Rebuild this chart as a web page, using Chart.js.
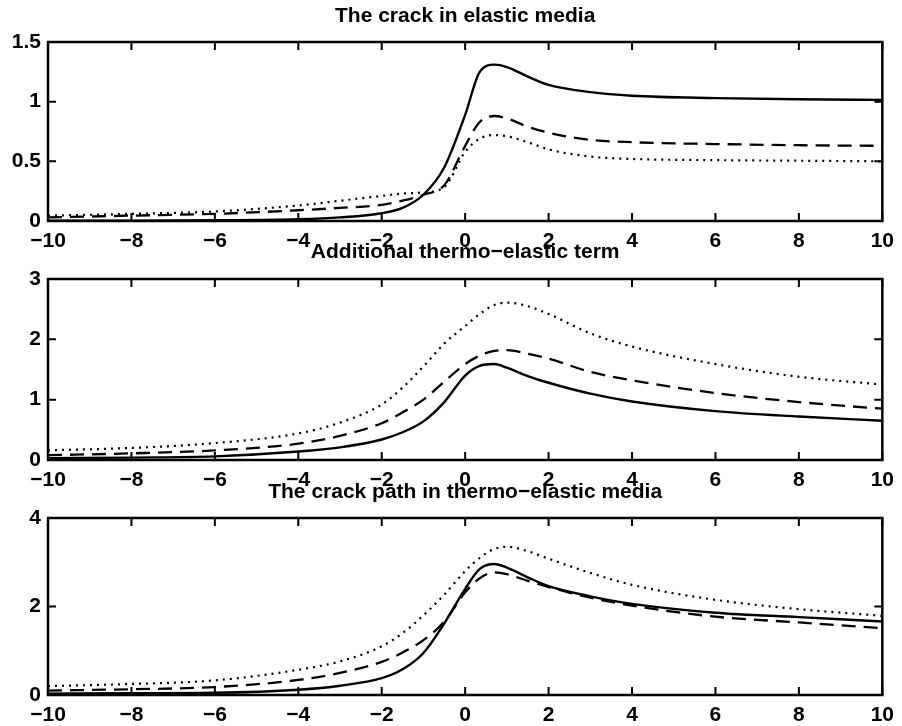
<!DOCTYPE html>
<html>
<head>
<meta charset="utf-8">
<script src="https://cdn.jsdelivr.net/npm/chart.js@4.4.1/dist/chart.umd.min.js"></script>
<style>
  body { margin: 0; background: #fff; }
  canvas { position: absolute; left: 0; }
</style>
</head>
<body>
<canvas id="c1" width="902" height="251" style="top:0px"></canvas>
<canvas id="c2" width="902" height="254" style="top:236px"></canvas>
<canvas id="c3" width="902" height="249" style="top:476px"></canvas>
<script>
// sample positions along the crack (shared by all curves)
const xs = [-10, -8, -6, -4, -3, -2, -1.5, -1, -0.5, 0, 0.35, 0.7, 1, 1.5, 2, 3, 4, 6, 8, 10];

// panel 1: the crack in elastic media
const solid1  = [0.002, 0.003, 0.006, 0.015, 0.03, 0.065, 0.11, 0.22, 0.45, 0.89, 1.25, 1.31, 1.29, 1.21, 1.14, 1.08, 1.05, 1.03, 1.02, 1.015];
const dashed1 = [0.03, 0.045, 0.06, 0.09, 0.11, 0.135, 0.17, 0.22, 0.30, 0.63, 0.83, 0.88, 0.86, 0.79, 0.74, 0.68, 0.66, 0.645, 0.635, 0.63];
const dotted1 = [0.045, 0.06, 0.08, 0.13, 0.17, 0.21, 0.23, 0.24, 0.285, 0.58, 0.69, 0.72, 0.71, 0.66, 0.60, 0.54, 0.52, 0.51, 0.505, 0.50];

// panel 2: additional thermo-elastic term
const solid2  = [0.03, 0.04, 0.06, 0.14, 0.21, 0.34, 0.46, 0.64, 0.96, 1.40, 1.56, 1.59, 1.53, 1.39, 1.28, 1.10, 0.97, 0.81, 0.72, 0.65];
const dashed2 = [0.08, 0.11, 0.16, 0.27, 0.40, 0.61, 0.79, 1.0, 1.30, 1.59, 1.73, 1.81, 1.82, 1.76, 1.68, 1.46, 1.32, 1.11, 0.96, 0.85];
const dotted2 = [0.16, 0.20, 0.28, 0.44, 0.62, 0.92, 1.2, 1.55, 1.93, 2.22, 2.42, 2.57, 2.61, 2.55, 2.42, 2.10, 1.88, 1.59, 1.38, 1.25];

// panel 3: the crack path in thermo-elastic media
const solid3  = [0.03, 0.04, 0.05, 0.12, 0.21, 0.38, 0.58, 0.95, 1.62, 2.40, 2.85, 2.96, 2.88, 2.66, 2.46, 2.23, 2.06, 1.86, 1.76, 1.66];
const dashed3 = [0.10, 0.13, 0.18, 0.34, 0.50, 0.75, 0.96, 1.24, 1.66, 2.32, 2.64, 2.77, 2.73, 2.58, 2.44, 2.20, 2.02, 1.77, 1.64, 1.51];
const dotted3 = [0.20, 0.25, 0.33, 0.57, 0.76, 1.10, 1.40, 1.80, 2.27, 2.80, 3.10, 3.30, 3.35, 3.25, 3.08, 2.76, 2.49, 2.15, 1.94, 1.79];

const xTicks = [-10, -8, -6, -4, -2, 0, 2, 4, 6, 8, 10];

Chart.defaults.font.family = '"Liberation Sans", Arial, sans-serif';
Chart.defaults.font.size = 21;
Chart.defaults.font.weight = 'bold';
Chart.defaults.color = '#000';

// MATLAB style box with inward ticks
const boxPlugin = {
    id: 'matlabBox',
    afterDatasetsDraw(chart) {
        const ctx = chart.ctx;
        const a = chart.chartArea;
        const xs_ = chart.scales.x, ys_ = chart.scales.y;
        const len = 8;
        ctx.save();
        ctx.strokeStyle = '#000';
        ctx.lineWidth = 2;
        ctx.beginPath();
        xs_.ticks.forEach(t => {
            const px = xs_.getPixelForValue(t.value);
            ctx.moveTo(px, a.bottom); ctx.lineTo(px, a.bottom - len);
            ctx.moveTo(px, a.top); ctx.lineTo(px, a.top + len);
        });
        ys_.ticks.forEach(t => {
            const py = ys_.getPixelForValue(t.value);
            ctx.moveTo(a.left, py); ctx.lineTo(a.left + len, py);
            ctx.moveTo(a.right, py); ctx.lineTo(a.right - len, py);
        });
        ctx.stroke();
        ctx.lineWidth = 2.5;
        ctx.strokeRect(a.left, a.top, a.right - a.left, a.bottom - a.top);
        ctx.restore();
    }
};

function toPoints(ys) {
    return xs.map((x, i) => ({ x: x, y: ys[i] }));
}

function makePanel(id, title, series, yMax, yStep, padBottom) {
    const styles = [
        { borderDash: [], borderWidth: 2.4 },
        { borderDash: [14, 8], borderWidth: 2.3 },
        { borderDash: [2, 5], borderWidth: 2.2 }
    ];
    new Chart(document.getElementById(id), {
        type: 'line',
        data: {
            datasets: series.map((s, i) => ({
                data: toPoints(s),
                borderColor: '#000',
                borderWidth: styles[i].borderWidth,
                borderDash: styles[i].borderDash,
                pointRadius: 0,
                fill: false,
                cubicInterpolationMode: 'monotone'
            }))
        },
        options: {
            responsive: false,
            animation: false,
            events: [],
            layout: { padding: { top: 0, right: 11, bottom: 0, left: 0 } },
            plugins: {
                legend: { display: false },
                tooltip: { enabled: false },
                title: {
                    display: true,
                    text: title,
                    fullSize: false,
                    font: { size: 21, weight: 'bold' },
                    padding: { top: 4, bottom: padBottom }
                }
            },
            scales: {
                x: {
                    type: 'linear',
                    min: -10, max: 10,
                    afterBuildTicks: s => { s.ticks = xTicks.map(v => ({ value: v })); },
                    afterFit: s => { s.height = 30; },
                    grid: { display: false, drawTicks: false },
                    border: { display: false },
                    ticks: {
                        padding: 8,
                        maxRotation: 0,
                        callback: v => String(v).replace('-', '\u2212')
                    }
                },
                y: {
                    min: 0, max: yMax,
                    afterFit: s => { s.width = 48; },
                    grid: { display: false, drawTicks: false },
                    border: { display: false },
                    ticks: { stepSize: yStep, padding: 7, callback: v => String(v) }
                }
            }
        },
        plugins: [boxPlugin]
    });
}

makePanel('c1', 'The crack in elastic media', [solid1, dashed1, dotted1], 1.5, 0.5, 12.8);
makePanel('c2', 'Additional thermo\u2212elastic term', [solid2, dashed2, dotted2], 3, 1, 13.8);
makePanel('c3', 'The crack path in thermo\u2212elastic media', [solid3, dashed3, dotted3], 4, 2, 12.8);
</script>
</body>
</html>
